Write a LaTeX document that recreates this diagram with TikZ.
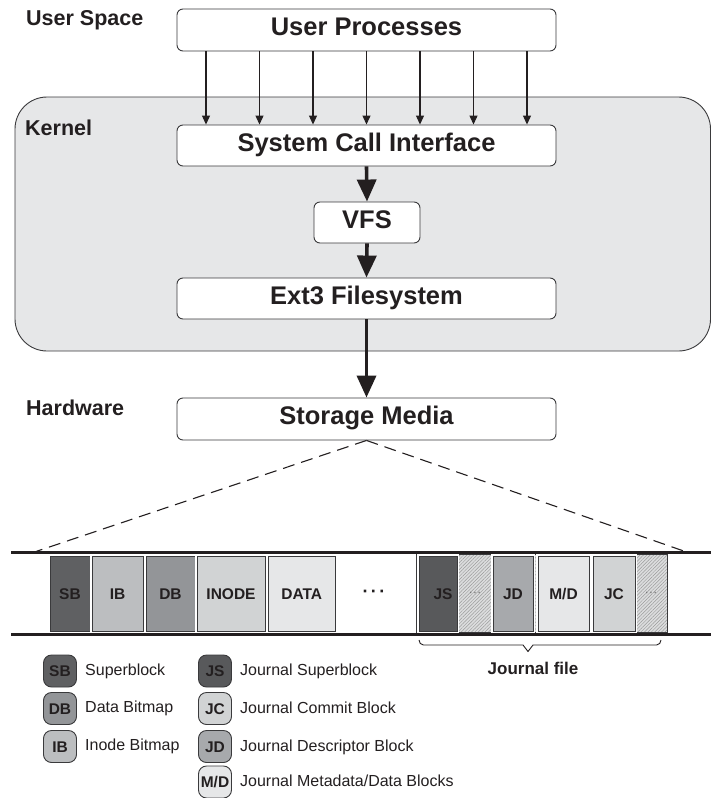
\documentclass[tikz,border=0pt]{standalone}
\usepackage{fontspec}
\setmainfont{Liberation Sans}
\usetikzlibrary{arrows.meta,patterns.meta}

\definecolor{ink}{HTML}{231F20}
\definecolor{edge}{HTML}{3A3A3C}
\definecolor{kernelbg}{HTML}{E6E7E8}
\definecolor{cSB}{HTML}{5F6062}
\definecolor{cIB}{HTML}{BCBEC0}
\definecolor{cDB}{HTML}{939598}
\definecolor{cINODE}{HTML}{D1D3D4}
\definecolor{cDATA}{HTML}{E6E7E8}
\definecolor{cJS}{HTML}{58595B}
\definecolor{cJD}{HTML}{A7A9AC}
\definecolor{cMD}{HTML}{E6E7E8}
\definecolor{cJC}{HTML}{D1D3D4}
\definecolor{hatchbg}{HTML}{DCDDDE}

\newcommand{\fsz}[1]{\fontsize{#1}{#1}\selectfont}

\begin{document}
\begin{tikzpicture}[x=1pt,y=-1pt,
  every node/.style={text=ink},
  layerbox/.style={draw=edge, line width=0.9pt, fill=white, rounded corners=6pt,
    inner sep=0pt, text height=18.3pt, text depth=7pt, font=\fsz{25.5}\bfseries},
  tierlabel/.style={anchor=base west, inner sep=0pt, font=\fsz{21.5}\bfseries},
  thinarrow/.style={draw=ink, line width=1.1pt, -{Triangle[length=9pt,width=8pt]}},
  bigarrow/.style={draw=ink, line width=3.6pt, -{Triangle[length=22pt,width=19pt]}},
  zoomline/.style={draw=ink, line width=1.1pt, dash pattern=on 12pt off 7pt},
  rail/.style={draw=ink, line width=3pt},
  diskblock/.style={draw=edge, line width=0.8pt, inner sep=0pt, minimum height=75pt,
    text height=11pt, text depth=0pt, font=\fsz{15.5}\bfseries,
    preaction={draw=white, line width=3.5pt}},
  hatchdots/.style={inner sep=0pt, text=black!55, font=\fsz{13}},
  keybox/.style={draw=edge, line width=0.9pt, rounded corners=8pt, inner sep=0pt,
    minimum width=33pt, minimum height=32pt, text height=11pt, text depth=0pt,
    font=\fsz{15.5}\bfseries},
  keytext/.style={anchor=west, inner sep=0pt, text height=11.5pt, text depth=0pt,
    font=\fsz{16}},
]
\useasboundingbox (0,0) rectangle (711,798);

% kernel area
\draw[fill=kernelbg, draw=edge, line width=0.9pt, rounded corners=32pt]
  (15,97) rectangle (710.5,351);

% tier labels
\node[tierlabel] (lus) at (26,25.7) {User Space};
\node[tierlabel] (lk)  at (25,135.7) {Kernel};
\node[tierlabel] (lhw) at (26,415.7) {Hardware};

% software stack
\node[layerbox, minimum width=379pt, minimum height=42pt] (up)  at (366.5,30)    {User Processes};
\node[layerbox, minimum width=379pt, minimum height=41pt] (sci) at (366.5,145.5) {System Call Interface};
\node[layerbox, minimum width=106pt, minimum height=41pt] (vfs) at (367,222.5)   {VFS};
\node[layerbox, minimum width=379pt, minimum height=41pt] (ext) at (366.5,298.5) {Ext3 Filesystem};
\node[layerbox, minimum width=379pt, minimum height=42pt] (sm)  at (366.5,419)   {Storage Media};

% system calls from user processes
\foreach \i/\xx in {1/206,2/259.5,3/313,4/366.5,5/420,6/473.5,7/527} {
  \coordinate (call\i) at (\xx,0);
  \draw[thinarrow] (up.south -| call\i) -- (sci.north -| call\i);
}
\draw[bigarrow] (sci.south) -- (vfs.north);
\draw[bigarrow] (vfs.south) -- (ext.north);
\draw[bigarrow] (ext.south) -- (sm.north);

% zoom lines onto the disk layout
\coordinate (zl) at (33,552.5);
\coordinate (zr) at (688,552.5);
\draw[zoomline] (sm.south) -- (zl);
\draw[zoomline] (sm.south) -- (zr);

% journal area background (hatched)
\fill[hatchbg] (416,554.5) rectangle (667,632.5);
\fill[pattern={Lines[angle=45,distance=2.4pt,line width=0.45pt]}, pattern color=black!40]
  (416,554.5) rectangle (667,632.5);
\draw[edge, line width=0.6pt] (416,554.5) rectangle (667,632.5);

% rails
\coordinate (rtl) at (11,552.5);
\coordinate (rtr) at (711,552.5);
\coordinate (rbl) at (11,634.5);
\coordinate (rbr) at (711,634.5);
\draw[rail] (rtl) -- (rtr);
\draw[rail] (rbl) -- (rbr);

% on-disk blocks
\node[diskblock, fill=cSB,    minimum width=40pt] (bsb)  at (70,593.5)    {SB};
\node[diskblock, fill=cIB,    minimum width=51pt] (bib)  at (117.5,593.5) {IB};
\node[diskblock, fill=cDB,    minimum width=49pt] (bdb)  at (170.5,593.5) {DB};
\node[diskblock, fill=cINODE, minimum width=68pt] (bin)  at (231,593.5)   {INODE};
\node[diskblock, fill=cDATA,  minimum width=66.5pt] (bda) at (301.75,593.5) {DATA};
\node[inner sep=0pt, font=\fsz{18}\bfseries] (bdots) at (374,594) {·\hspace{2.5pt}·\hspace{2.5pt}·};

\node[diskblock, fill=cJS, minimum width=38pt] (bjs) at (438,593.5) {\hspace{10pt}JS};
\node[hatchdots] (hd1) at (475,594) {···};
\node[diskblock, fill=cJD, minimum width=40pt] (bjd) at (513,593.5) {JD};
\node[diskblock, fill=cMD, minimum width=51pt] (bmd) at (563.5,593.5) {M/D};
\node[diskblock, fill=cJC, minimum width=42pt] (bjc) at (614,593.5) {JC};
\node[hatchdots] (hd2) at (651,594) {···};

% journal brace
\coordinate (brl) at (419,640);
\coordinate (brr) at (661,640);
\coordinate (brt) at (528,651.5);
\draw[ink, line width=0.9pt] (brl) to[out=-90,in=180] (423.5,645) -- (523,645) -- (brt)
  -- (533,645) -- (656.5,645) to[out=0,in=-90] (brr);
\node[inner sep=0pt, text height=12.2pt, text depth=0pt, font=\fsz{17}\bfseries] (jf) at (533,668) {Journal file};

% legend
\node[keybox, fill=cSB] (ksb) at (60,671) {SB};
\node[keytext] (tsb) at (85,669.5) {Superblock};
\node[keybox, fill=cDB] (kdb) at (60,708.5) {DB};
\node[keytext] (tdb) at (85,707) {Data Bitmap};
\node[keybox, fill=cIB] (kib) at (60,746.5) {IB};
\node[keytext] (tib) at (85,745) {Inode Bitmap};

\node[keybox, fill=cJS] (kjs) at (215,671) {JS};
\node[keytext] (tjs) at (240,670) {Journal Superblock};
\node[keybox, fill=cJC] (kjc) at (215,708.5) {JC};
\node[keytext] (tjc) at (240,708) {Journal Commit Block};
\node[keybox, fill=cJD] (kjd) at (215,746.5) {JD};
\node[keytext] (tjd) at (240,745.5) {Journal Descriptor Block};
\node[keybox, fill=cMD] (kmd) at (215,782) {M/D};
\node[keytext] (tmd) at (240,781) {Journal Metadata/Data Blocks};
\end{tikzpicture}
\end{document}
